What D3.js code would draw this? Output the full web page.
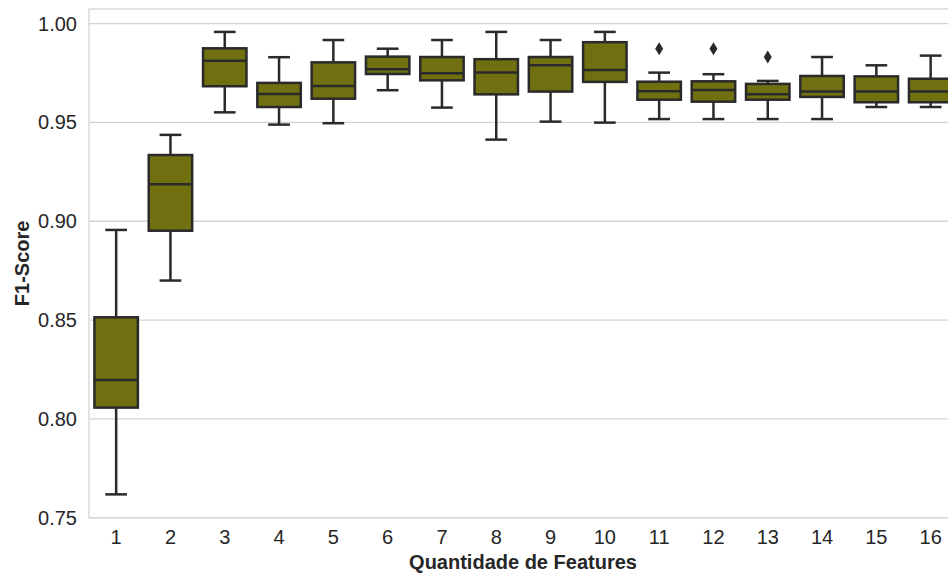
<!DOCTYPE html>
<html>
<head>
<meta charset="utf-8">
<script src="https://cdn.jsdelivr.net/npm/d3@7"></script>
<style>
  body { margin: 0; background: #fff; overflow: hidden; }
  text { font-family: "Liberation Sans", Arial, sans-serif; fill: #262626; }
</style>
</head>
<body>
<div id="app"></div>
<script>
// number of features on x
let categories = ["1","2","3","4","5","6","7","8","9","10","11","12","13","14","15","16"]

// box stats
let whiskerLow  = [0.7618, 0.8700, 0.9551, 0.9489, 0.9496, 0.9663, 0.9575, 0.9413, 0.9504, 0.9499, 0.9517, 0.9517, 0.9517, 0.9517, 0.9578, 0.9578]
let q1          = [0.8057, 0.8952, 0.9683, 0.9578, 0.9620, 0.9745, 0.9713, 0.9642, 0.9656, 0.9705, 0.9615, 0.9605, 0.9615, 0.9629, 0.9602, 0.9602]
let median      = [0.8197, 0.9187, 0.9812, 0.9644, 0.9684, 0.9769, 0.9749, 0.9752, 0.9789, 0.9765, 0.9658, 0.9664, 0.9642, 0.9656, 0.9656, 0.9656]
let q3          = [0.8514, 0.9335, 0.9875, 0.9700, 0.9804, 0.9833, 0.9831, 0.9820, 0.9831, 0.9906, 0.9706, 0.9708, 0.9695, 0.9735, 0.9733, 0.9721]
let whiskerHigh = [0.8956, 0.9437, 0.9958, 0.9830, 0.9917, 0.9873, 0.9917, 0.9958, 0.9917, 0.9958, 0.9752, 0.9744, 0.9710, 0.9831, 0.9789, 0.9838]

// fliers: [category, value]
let outliers = [["11", 0.9873], ["12", 0.9873], ["13", 0.9831]]

let yTicks = [0.75, 0.80, 0.85, 0.90, 0.95, 1.00]

let width = 948, height = 574
let mLeft = 89, mTop = 9, mBottom = 517.7
let step = 54.3

let svg = d3.select("#app").append("svg")
    .attr("width", width)
    .attr("height", height)

let x = d3.scaleBand()
    .domain(categories)
    .range([mLeft, mLeft + step * categories.length])
    .padding(0)

let y = d3.scaleLinear()
    .domain([0.75, 1.00739])
    .range([mBottom, mTop])

let boxW = x.bandwidth() * 0.8
let fill = "#707010", line = "#2a2a2a", grid = "#d4d4d4"

// grid
svg.append("g").selectAll("line")
    .data(yTicks)
    .enter().append("line")
    .attr("x1", mLeft).attr("x2", width)
    .attr("y1", d => y(d)).attr("y2", d => y(d))
    .attr("stroke", grid).attr("stroke-width", 1.3)

// frame
svg.append("rect")
    .attr("x", mLeft).attr("y", mTop)
    .attr("width", x.range()[1] - mLeft).attr("height", mBottom - mTop)
    .attr("fill", "none").attr("stroke", grid).attr("stroke-width", 1.3)

// y tick labels
svg.append("g").selectAll("text")
    .data(yTicks)
    .enter().append("text")
    .attr("x", 77).attr("y", d => y(d))
    .attr("dy", "0.35em")
    .attr("text-anchor", "end")
    .attr("font-size", 20)
    .text(d => d3.format(".2f")(d))

// x tick labels
svg.append("g").selectAll("text")
    .data(categories)
    .enter().append("text")
    .attr("x", d => x(d) + x.bandwidth() / 2)
    .attr("y", 537)
    .attr("dy", "0.35em")
    .attr("text-anchor", "middle")
    .attr("font-size", 20)
    .text(d => d)

// axis titles
svg.append("text")
    .attr("x", mLeft + 434).attr("y", 562)
    .attr("dy", "0.35em")
    .attr("text-anchor", "middle")
    .attr("font-size", 20).attr("font-weight", "bold")
    .text("Quantidade de Features")

svg.append("text")
    .attr("transform", "translate(22," + ((mTop + mBottom) / 2) + ") rotate(-90)")
    .attr("dy", "0.35em")
    .attr("text-anchor", "middle")
    .attr("font-size", 20).attr("font-weight", "bold")
    .text("F1-Score")

// boxes
let boxes = categories.map((c, i) => ({
    cat: c, lo: whiskerLow[i], q1: q1[i], med: median[i], q3: q3[i], hi: whiskerHigh[i]
}))

let g = svg.append("g").selectAll("g")
    .data(boxes)
    .enter().append("g")
    .attr("transform", d => "translate(" + (x(d.cat) + x.bandwidth() / 2) + ",0)")

g.append("line").attr("x1", 0).attr("x2", 0)
    .attr("y1", d => y(d.q3)).attr("y2", d => y(d.hi))
    .attr("stroke", line).attr("stroke-width", 2.5)
g.append("line").attr("x1", 0).attr("x2", 0)
    .attr("y1", d => y(d.q1)).attr("y2", d => y(d.lo))
    .attr("stroke", line).attr("stroke-width", 2.5)
g.append("line").attr("x1", -boxW / 4).attr("x2", boxW / 4)
    .attr("y1", d => y(d.hi)).attr("y2", d => y(d.hi))
    .attr("stroke", line).attr("stroke-width", 2.5)
g.append("line").attr("x1", -boxW / 4).attr("x2", boxW / 4)
    .attr("y1", d => y(d.lo)).attr("y2", d => y(d.lo))
    .attr("stroke", line).attr("stroke-width", 2.5)

g.append("rect")
    .attr("x", -boxW / 2).attr("width", boxW)
    .attr("y", d => y(d.q3)).attr("height", d => y(d.q1) - y(d.q3))
    .attr("fill", fill).attr("stroke", line).attr("stroke-width", 2.5)

g.append("line").attr("x1", -boxW / 2).attr("x2", boxW / 2)
    .attr("y1", d => y(d.med)).attr("y2", d => y(d.med))
    .attr("stroke", line).attr("stroke-width", 2.5)

// outliers as thin diamonds
svg.append("g").selectAll("path")
    .data(outliers)
    .enter().append("path")
    .attr("transform", d => "translate(" + (x(d[0]) + x.bandwidth() / 2) + "," + y(d[1]) + ")")
    .attr("d", "M0,-6.5L4,0L0,6.5L-4,0Z")
    .attr("fill", line)
</script>
</body>
</html>
